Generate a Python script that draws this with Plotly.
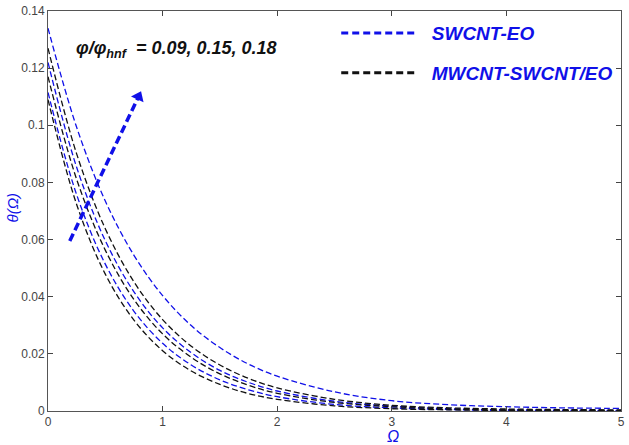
import plotly.graph_objects as go

# ---- data ----
omega = [0, 0.25, 0.5, 0.75, 1, 1.25, 1.5, 1.75, 2, 2.5, 3, 3.5, 4, 4.5, 5]

swcnt_009 = [0.134, 0.0993, 0.0735, 0.0545, 0.0404, 0.0299, 0.0222, 0.0164, 0.0122, 0.0067, 0.0036, 0.0022, 0.0015, 0.0011, 0.0009]
swcnt_015 = [0.122, 0.0853, 0.0596, 0.0417, 0.0291, 0.0204, 0.0142, 0.0100, 0.0070, 0.0034, 0.0017, 0.0008, 0.0004, 0.0003, 0.0002]
swcnt_018 = [0.1115, 0.0757, 0.0514, 0.0349, 0.0237, 0.0161, 0.0109, 0.0074, 0.0050, 0.0023, 0.0011, 0.0005, 0.0002, 0.0001, 0.0001]

hyb_009 = [0.127, 0.0900, 0.0638, 0.0452, 0.0320, 0.0227, 0.0161, 0.0114, 0.0081, 0.0041, 0.0020, 0.0011, 0.0007, 0.0005, 0.0004]
hyb_015 = [0.117, 0.0811, 0.0563, 0.0390, 0.0270, 0.0188, 0.0130, 0.0090, 0.0062, 0.0030, 0.0015, 0.0007, 0.0004, 0.0002, 0.0001]
hyb_018 = [0.109, 0.0723, 0.0479, 0.0318, 0.0211, 0.0140, 0.0093, 0.0061, 0.0041, 0.0018, 0.0008, 0.0004, 0.0002, 0.0001, 0.0000]

arrow_x = [0.19, 0.79]
arrow_y = [0.0595, 0.110]

x_ticks = [0, 1, 2, 3, 4, 5]
y_ticks = [0, 0.02, 0.04, 0.06, 0.08, 0.1, 0.12, 0.14]
y_ticktext = ["0", "0.02", "0.04", "0.06", "0.08", "0.1", "0.12", "0.14"]

BLUE = "#1010e8"
BLACK = "#111111"

fig = go.Figure()

series = [
    (swcnt_009, BLUE),
    (swcnt_015, BLUE),
    (swcnt_018, BLUE),
    (hyb_009, BLACK),
    (hyb_015, BLACK),
    (hyb_018, BLACK),
]
for ys, col in series:
    fig.add_trace(go.Scatter(
        x=omega, y=ys, mode="lines", showlegend=False,
        line=dict(color=col, width=1.3, dash="6px,3px", shape="spline", smoothing=1.0),
    ))

# legend entries (thick dashed samples as in the reference)
for name, col, grp in [("SWCNT-EO", BLUE, "g1"), ("MWCNT-SWCNT/EO", BLACK, "g2")]:
    fig.add_trace(go.Scatter(
        x=[None], y=[None], mode="lines", name="\u00a0\u00a0" + name, legendgroup=grp,
        line=dict(color=col, width=3, dash="7px,4px"),
    ))

# thick dashed arrow
fig.add_trace(go.Scatter(
    x=arrow_x, y=arrow_y, mode="lines", showlegend=False,
    line=dict(color=BLUE, width=3.5, dash="8px,4px"),
))
fig.add_trace(go.Scatter(
    x=[arrow_x[1]], y=[arrow_y[1]], mode="markers", showlegend=False,
    marker=dict(symbol="triangle-up", size=12, angle=25, color=BLUE),
))

fig.update_layout(
    width=629, height=445,
    margin=dict(l=48, r=4, t=6, b=34),
    paper_bgcolor="white", plot_bgcolor="white",
    font=dict(family="Liberation Sans, Arial", size=12, color="#444"),
    legend=dict(
        x=0.503, y=0.992, xanchor="left", yanchor="top",
        bgcolor="rgba(0,0,0,0)",
        font=dict(family="Liberation Sans, Arial", size=19, color=BLUE, style="italic", weight="bold"),
        itemwidth=75, tracegroupgap=12,
    ),
    xaxis=dict(
        range=[0, 5], tickvals=x_ticks, ticks="inside", ticklen=5,
        showline=True, linecolor="#555", linewidth=1, mirror="ticks",
        showgrid=False, zeroline=False, tickfont=dict(size=12, color="#444"),
        ticklabeloverflow="allow",
    ),
    yaxis=dict(
        range=[0, 0.14], tickvals=y_ticks, ticktext=y_ticktext,
        ticks="inside", ticklen=5,
        showline=True, linecolor="#555", linewidth=1, mirror="ticks",
        showgrid=False, zeroline=False, tickfont=dict(size=12, color="#444"),
        ticklabeloverflow="allow",
    ),
    annotations=[
        dict(text="<b><i>φ/φ<sub>hnf</sub>  = 0.09, 0.15, 0.18</i></b>",
             xref="paper", yref="paper", x=0.045, y=0.903, xanchor="left", yanchor="middle",
             showarrow=False, font=dict(size=18, color="#111")),
        dict(text="<i>θ(Ω)</i>", xref="paper", yref="paper", x=-0.062, y=0.51,
             xanchor="center", yanchor="middle", textangle=-90, showarrow=False,
             font=dict(size=15, color=BLUE)),
        dict(text="<i>Ω</i>", xref="paper", yref="paper", x=0.602, y=-0.064,
             xanchor="center", yanchor="middle", showarrow=False,
             font=dict(size=16, color=BLUE)),
    ],
)

fig.write_html("out.html", config={"displayModeBar": False},
               post_script="document.body.style.margin='0';document.body.style.overflow='hidden';")
